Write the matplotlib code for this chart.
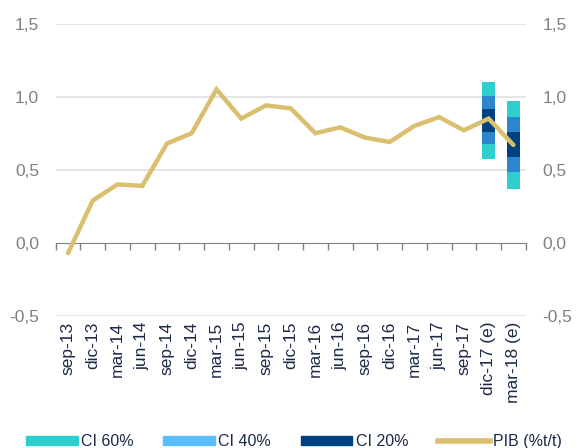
import numpy as np
import matplotlib
matplotlib.use('Agg')
import matplotlib.pyplot as plt
from matplotlib.patches import Patch
from matplotlib.lines import Line2D

plt.rcParams['font.family'] = ['Liberation Sans', 'DejaVu Sans']

periods = ['sep-13', 'dic-13', 'mar-14', 'jun-14', 'sep-14', 'dic-14', 'mar-15',
           'jun-15', 'sep-15', 'dic-15', 'mar-16', 'jun-16', 'sep-16', 'dic-16',
           'mar-17', 'jun-17', 'sep-17', 'dic-17 (e)', 'mar-18 (e)']
pib = [-0.07, 0.29, 0.40, 0.39, 0.68, 0.75, 1.05, 0.85, 0.94, 0.92, 0.75,
       0.79, 0.72, 0.69, 0.80, 0.86, 0.77, 0.85, 0.67]

# confidence band edges for the two forecast quarters (low -> high)
ci_idx = [17, 18]
ci60_low = [0.573, 0.369]
ci40_low = [0.674, 0.482]
ci20_low = [0.758, 0.588]
ci20_high = [0.916, 0.760]
ci40_high = [1.002, 0.860]
ci60_high = [1.102, 0.973]

c_teal = '#2ECFCF'
c_mid = '#2B86CF'
c_light = '#5BBDFD'
c_dark = '#00427F'
c_pib = '#D9BF6E'
grey = '#808080'
txt = '#1B2A47'


def main():
    fig = plt.figure(figsize=(5.76, 4.48), dpi=100)
    ax = fig.add_axes([0.0967, 0.2946, 0.816, 0.6529])

    x = np.arange(len(periods))
    xi = np.array(ci_idx)
    w = 0.5
    lo60, lo40, lo20 = np.array(ci60_low), np.array(ci40_low), np.array(ci20_low)
    hi20, hi40, hi60 = np.array(ci20_high), np.array(ci40_high), np.array(ci60_high)
    ax.bar(xi, lo40 - lo60, w, bottom=lo60, color=c_teal, zorder=2)
    ax.bar(xi, lo20 - lo40, w, bottom=lo40, color=c_mid, zorder=2)
    ax.bar(xi, hi20 - lo20, w, bottom=lo20, color=c_dark, zorder=2)
    ax.bar(xi, hi40 - hi20, w, bottom=hi20, color=c_mid, zorder=2)
    ax.bar(xi, hi60 - hi40, w, bottom=hi40, color=c_teal, zorder=2)

    ax.plot(x, pib, color=c_pib, linewidth=3.2, zorder=3, solid_capstyle='round',
            solid_joinstyle='miter')

    ax.set_xlim(-0.5, len(periods) - 0.5)
    ax.set_ylim(-0.5, 1.5)
    ax.set_yticks([-0.5, 0.0, 0.5, 1.0, 1.5])
    ax.set_yticklabels(['-0,5', '0,0', '0,5', '1,0', '1,5'])
    ax.tick_params(axis='y', length=0, labelsize=12.5, labelcolor=grey,
                   labelright=True, pad=12)
    for v in [-0.5, 0.5, 1.0, 1.5]:
        ax.axhline(v, color='#E0E0E0', linewidth=1.2, zorder=1)

    for s in ['top', 'left', 'right']:
        ax.spines[s].set_visible(False)
    ax.spines['bottom'].set_position(('data', 0))
    ax.spines['bottom'].set_color(grey)
    ax.spines['bottom'].set_zorder(2.5)
    ax.set_xticks(np.arange(len(periods) + 1) - 0.5)
    ax.set_xticklabels([])
    ax.tick_params(axis='x', direction='out', length=5, width=1, color=grey)

    sec = ax.secondary_xaxis('bottom')
    sec.set_xticks(x)
    sec.set_xticklabels(periods, rotation=90, fontsize=12.5, color=txt)
    sec.tick_params(length=0, pad=4)
    sec.spines['bottom'].set_visible(False)

    handles = [Patch(color=c_teal), Patch(color=c_light), Patch(color=c_dark),
               Line2D([], [], color=c_pib, linewidth=4)]
    fig.legend(handles, ['CI 60%', 'CI 40%', 'CI 20%', 'PIB (%t/t)'],
               loc='lower center', bbox_to_anchor=(0.51, -0.035), ncol=4,
               frameon=False, fontsize=11.5, labelcolor=txt, handlelength=3.25,
               handleheight=0.55, handletextpad=0.2, columnspacing=1.85)

    plt.savefig('out.png', dpi=100)


if __name__ == '__main__':
    main()
